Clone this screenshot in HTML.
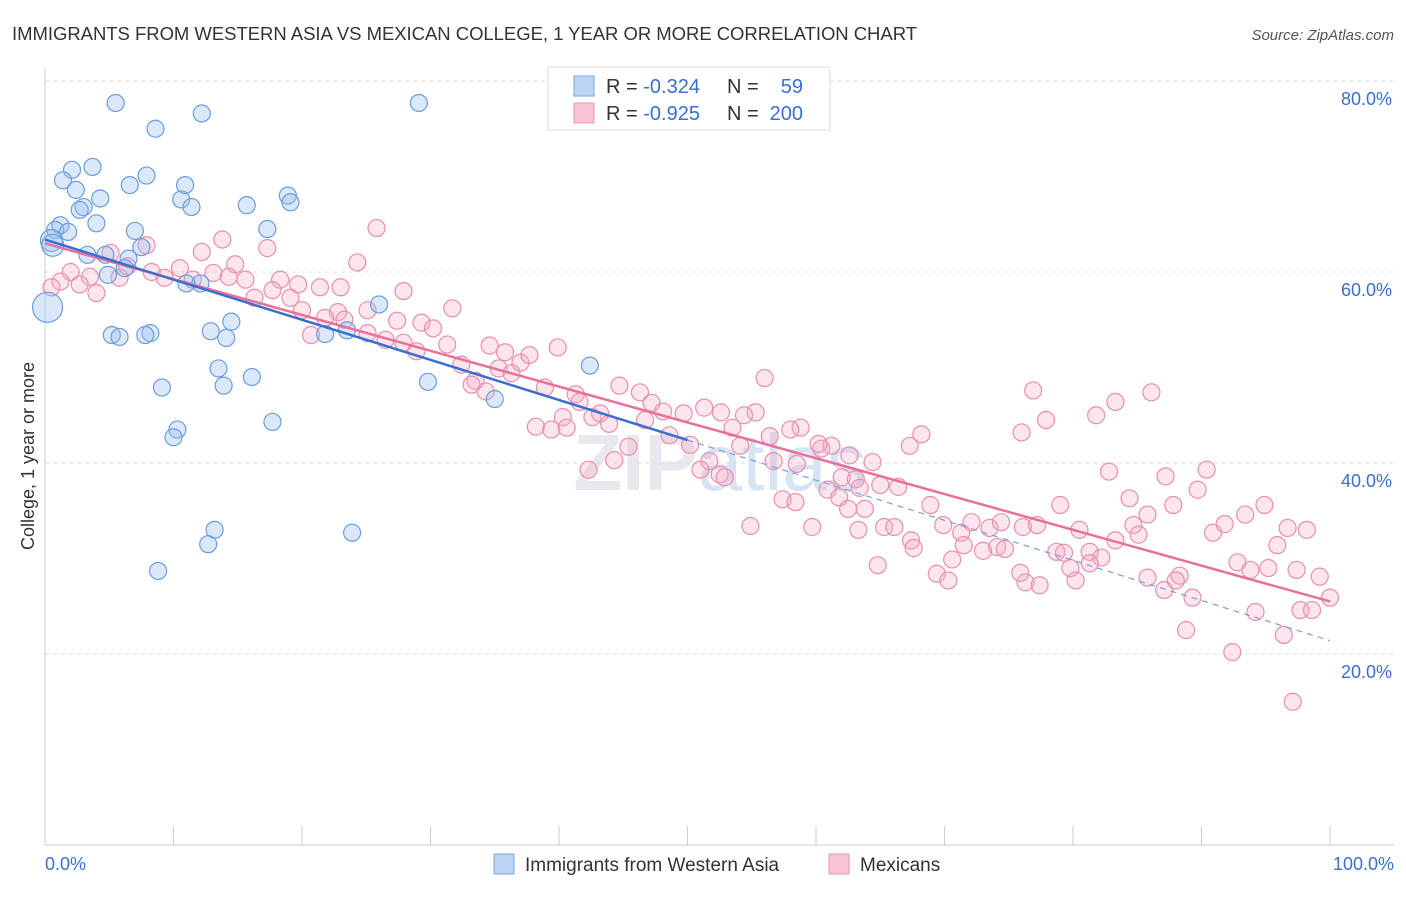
<!DOCTYPE html>
<html><head><meta charset="utf-8"><style>
body{margin:0;background:#fff;font-family:"Liberation Sans",sans-serif}
svg text{font-family:"Liberation Sans",sans-serif}
</style></head><body>
<svg id="chart" width="1406" height="892" viewBox="0 0 1406 892" xmlns="http://www.w3.org/2000/svg">
<text x="12" y="40" font-size="18.5" fill="#333" textLength="905">IMMIGRANTS FROM WESTERN ASIA VS MEXICAN COLLEGE, 1 YEAR OR MORE CORRELATION CHART</text>
<text x="1394" y="40" font-size="15" fill="#555" text-anchor="end" font-style="italic">Source: ZipAtlas.com</text>
<text x="720" y="490" font-size="80" fill="#e8e8ee" text-anchor="middle" font-weight="bold">ZIP<tspan font-weight="normal" fill="#d6e4f4">atlas</tspan></text>
<g id="grid"></g>
<g id="axes"></g>
<g id="pink"></g>
<g id="blue"></g>
<g id="trends"></g>
<text transform="translate(34,456) rotate(-90)" font-size="18" fill="#333" text-anchor="middle">College, 1 year or more</text>
<g>
<rect x="548" y="67" width="282" height="63" fill="#fff" stroke="#ddd"/>
<rect x="574" y="76" width="20" height="20" fill="#bcd4f4" stroke="#7aa6e0"/>
<rect x="574" y="103" width="20" height="20" fill="#f8c4d4" stroke="#eb93ae"/>
<text x="606" y="93" font-size="20" fill="#333">R = <tspan fill="#3a6fd0">-0.324</tspan></text>
<text x="727" y="93" font-size="20" fill="#333">N =</text>
<text x="803" y="93" font-size="20" fill="#3a6fd0" text-anchor="end">59</text>
<text x="606" y="120" font-size="20" fill="#333">R = <tspan fill="#3a6fd0">-0.925</tspan></text>
<text x="727" y="120" font-size="20" fill="#333">N =</text>
<text x="803" y="120" font-size="20" fill="#3a6fd0" text-anchor="end">200</text>
</g>
<g>
<rect x="494" y="854" width="20" height="20" fill="#bcd4f4" stroke="#7aa6e0"/>
<text x="525" y="871" font-size="19" fill="#333">Immigrants from Western Asia</text>
<rect x="829" y="854" width="20" height="20" fill="#f8c4d4" stroke="#eb93ae"/>
<text x="860" y="871" font-size="19" fill="#333">Mexicans</text>
</g>
</svg>
<script>
const blueX=[5.5,12.2,29.1,8.6,3.7,2.1,7.9,1.4,6.6,10.9,2.4,18.9,4.3,10.6,19.1,15.7,11.4,3.0,2.7,4.0,1.2,0.8,1.8,17.3,7.0,0.5,0.6,7.5,3.3,4.7,6.5,6.2,4.9,12.1,11.0,0.2,26.0,14.5,12.9,23.5,5.2,8.2,7.8,5.8,14.1,21.8,42.4,13.5,16.1,29.8,9.1,13.9,35.0,17.7,10.3,10.0,13.2,23.9,12.7,8.8];
const blueY=[77.7,76.6,77.7,75.0,71.0,70.7,70.1,69.6,69.1,69.1,68.6,68.0,67.7,67.6,67.3,67.0,66.8,66.8,66.5,65.1,64.9,64.4,64.2,64.5,64.3,63.3,62.8,62.6,61.8,61.8,61.4,60.4,59.7,58.8,58.8,56.3,56.6,54.8,53.8,53.9,53.4,53.6,53.4,53.2,53.1,53.5,50.2,49.9,49.0,48.5,47.9,48.1,46.7,44.3,43.5,42.7,33.0,32.7,31.5,28.7];
const pinkX=[25.8,7.9,5.1,17.3,13.8,12.2,24.3,10.5,14.8,2.0,3.5,5.8,1.2,0.5,4.0,2.7,9.3,8.3,6.4,11.5,13.1,14.3,15.6,18.3,17.7,19.7,21.4,23.0,19.1,16.3,20.0,22.8,25.1,27.9,21.8,20.7,26.5,27.4,29.3,30.2,31.3,31.7,27.9,28.9,25.1,23.3,32.4,34.6,35.8,37.0,37.7,39.9,33.5,34.3,33.2,35.3,36.3,38.9,41.3,41.6,44.7,46.3,47.2,48.1,49.7,51.3,52.6,55.3,56.0,53.5,54.4,56.4,58.8,61.2,62.6,64.4,67.3,68.2,40.3,38.2,39.4,40.6,42.6,43.9,45.4,43.2,46.7,48.6,50.2,51.7,52.5,54.1,56.7,58.5,60.4,62.0,63.1,65.0,66.4,57.4,58.4,60.9,61.8,62.5,63.8,65.3,66.1,67.4,68.9,69.9,71.3,72.1,73.5,74.4,76.1,77.2,63.3,64.8,67.6,69.4,70.6,71.5,73.0,74.1,78.7,79.3,81.3,82.2,83.3,84.7,85.8,84.4,82.8,76.0,77.9,81.8,83.3,86.1,76.9,87.2,89.7,90.4,87.8,85.1,85.8,87.1,88.3,89.3,90.9,91.8,93.4,94.9,95.9,98.2,92.8,93.8,95.2,97.4,99.2,100.0,97.7,98.6,96.4,94.2,92.4,88.8,97.1,80.2,77.4,76.3,75.9,79.8,81.3,54.9,44.3,42.3,51.0,52.9,59.7,63.4,70.3,74.7,79.0,80.5,88.0,96.7,58.0,60.2];
const pinkY=[64.6,62.8,62.0,62.5,63.4,62.1,61.0,60.4,60.8,60.0,59.5,59.4,59.0,58.4,57.8,58.7,59.4,60.0,60.6,59.2,59.9,59.5,59.2,59.2,58.1,58.7,58.4,58.4,57.3,57.3,56.0,55.8,56.0,58.0,55.2,53.4,52.9,54.9,54.7,54.1,52.4,56.2,52.6,51.7,53.6,55.0,50.3,52.3,51.6,50.5,51.3,52.1,48.6,47.5,48.2,49.9,49.4,47.9,47.2,46.4,48.1,47.4,46.3,45.4,45.2,45.8,45.3,45.3,48.9,43.7,45.0,42.8,43.7,41.8,40.8,40.1,41.8,43.0,44.8,43.8,43.5,43.7,44.8,44.1,41.7,45.2,44.5,42.9,41.9,40.2,38.8,41.8,40.2,39.9,41.5,38.5,38.3,37.7,37.5,36.2,35.9,37.2,36.4,35.2,35.2,33.3,33.3,31.9,35.6,33.5,32.7,33.8,33.2,33.8,33.3,33.5,33.0,29.3,31.1,28.4,29.9,31.4,30.8,31.2,30.7,30.6,30.7,30.1,31.9,33.5,34.6,36.3,39.1,43.2,44.5,45.0,46.4,47.4,47.6,38.6,37.2,39.3,35.6,32.5,28.0,26.7,28.2,25.9,32.7,33.6,34.6,35.6,31.4,33.0,29.6,28.8,29.0,28.8,28.1,25.9,24.6,24.6,22.0,24.4,20.2,22.5,15.0,27.7,27.2,27.5,28.5,29.0,29.5,33.4,40.3,39.3,39.3,38.5,33.3,37.4,27.7,31.0,35.6,33.0,27.7,33.2,43.5,42.0];
const yTicks=[20,40,60,80];
const yTickLabels=["20.0%","40.0%","60.0%","80.0%"];
const xTicks=[0,10,20,30,40,50,60,70,80,90,100];
const blueTrend=[63.4,-0.42];
const pinkTrend=[63.0,-0.375];

const NS="http://www.w3.org/2000/svg";
const X=v=>45+v*12.85;
const Y=v=>654-(v-20)*9.55;
function mk(tag,attrs,parent){const e=document.createElementNS(NS,tag);for(const k in attrs)e.setAttribute(k,attrs[k]);parent.appendChild(e);return e;}
const grid=document.getElementById('grid'),axes=document.getElementById('axes');
yTicks.forEach((t,i)=>{
  const l=mk('line',{x1:45,x2:1394,y1:Y(t),y2:Y(t),stroke:'#ddd','stroke-dasharray':'4,4'},grid);
  
  
  const tx=mk('text',{x:1392,y:Y(t)+24,'font-size':18,fill:'#3a6fd0','text-anchor':'end'},axes);
  tx.textContent=yTickLabels[i];
  
  
});
const ax=mk('line',{x1:45,x2:1394,y1:845,y2:845,stroke:'#ccc'},axes);


const ay=mk('line',{x1:45,x2:45,y1:68,y2:845,stroke:'#ccc'},axes);


xTicks.forEach(t=>{
  const l=mk('line',{x1:X(t),x2:X(t),y1:826,y2:845,stroke:'#ccc'},axes);
  
  
});
const xl0=mk('text',{x:45,y:870,'font-size':18,fill:'#3a6fd0'},axes);xl0.textContent="0.0%";


const xl1=mk('text',{x:1394,y:870,'font-size':18,fill:'#3a6fd0','text-anchor':'end'},axes);xl1.textContent="100.0%";



const pg=document.getElementById('pink');
pinkX.forEach((x,i)=>{
  const c=mk('circle',{cx:X(x),cy:Y(pinkY[i]),r:8.5,fill:'rgba(244,170,195,0.3)',stroke:'#ea8fac','stroke-width':1.2},pg);
  
  
});
const bg=document.getElementById('blue');
blueX.forEach((x,i)=>{
  const big=(x<0.3&&blueY[i]<57)?15:(x<0.7&&blueY[i]>62&&blueY[i]<64?11:8.5);
  const c=mk('circle',{cx:X(x),cy:Y(blueY[i]),r:big,fill:'rgba(150,190,240,0.35)',stroke:'#6c9ddc','stroke-width':1.2},bg);
  
  
});
const tg=document.getElementById('trends');
const f=(tr,x)=>tr[0]+tr[1]*x;
const pl=mk('line',{x1:X(0),y1:Y(f(pinkTrend,0)),x2:X(100),y2:Y(f(pinkTrend,100)),stroke:'#e8709a','stroke-width':2.5},tg);


const bl=mk('line',{x1:X(0),y1:Y(f(blueTrend,0)),x2:X(50),y2:Y(f(blueTrend,50)),stroke:'#3a6fd0','stroke-width':2.5},tg);


const bd=mk('line',{x1:X(50),y1:Y(f(blueTrend,50)),x2:X(100),y2:Y(f(blueTrend,100)),stroke:'#7a9fdc','stroke-width':1.2,'stroke-dasharray':'6,5'},tg);


</script>
</body></html>
